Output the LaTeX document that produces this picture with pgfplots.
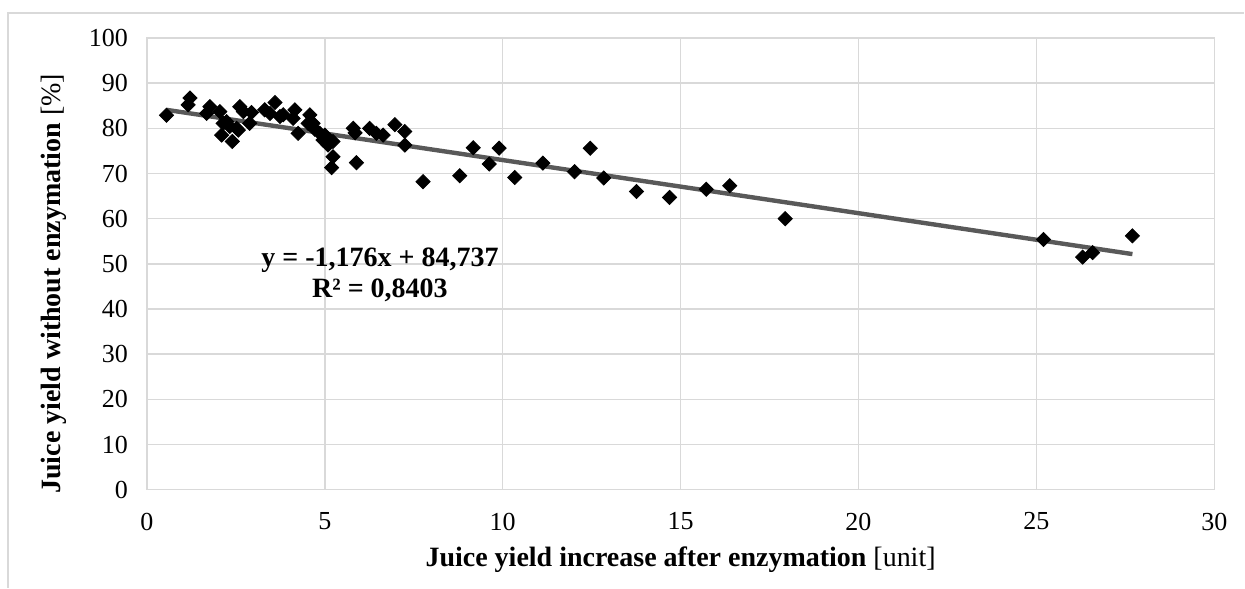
\documentclass[border=0pt]{standalone}
\usepackage{fontspec}
\setmainfont{Liberation Serif}
\usepackage{pgfplots}
\pgfplotsset{compat=1.18}
\definecolor{gridc}{HTML}{D9D9D9}
\definecolor{trend}{HTML}{595959}
\begin{document}
\begin{tikzpicture}
\begin{axis}[
  scale only axis, width=534pt, height=226pt,
  xmin=0, xmax=30, ymin=0, ymax=100,
  xtick={0,5,...,30}, ytick={0,10,...,100},
  grid=major, major grid style={draw=gridc, line width=0.75pt},
  axis line style={draw=gridc, line width=0.75pt},
  major tick length=0pt,
  /pgf/number format/assume math mode=true,
  ticklabel style={font=\fontsize{13}{15}\selectfont},
  xticklabel style={yshift=-8pt},
  yticklabel style={xshift=-6pt},
  xlabel={\textbf{Juice yield increase after enzymation} [unit]},
  ylabel={\textbf{Juice yield without enzymation} [\%]},
  label style={font=\fontsize{14}{16}\selectfont},
  xlabel style={at={(axis description cs:0.5,-0.155)}, anchor=center},
  ylabel style={at={(axis description cs:-0.087,0.456)}, anchor=center},
  clip=false,
]
\addplot[only marks, mark=square*, mark size=2.5pt, mark options={rotate=45, fill=black, draw=black}] coordinates {
(0.55,82.9) (1.16,85.2) (1.21,86.7) (1.68,83.3) (1.77,84.8) (2.05,83.7)
(2.14,81.1) (2.24,81.5) (2.10,78.5) (2.40,77.1) (2.33,80.4) (2.52,80.0)
(2.61,84.8) (2.57,79.6) (2.71,83.7) (2.89,81.1) (2.94,83.5) (3.31,84.1)
(3.46,83.3) (3.60,85.7) (3.74,82.6) (3.83,83.0) (4.16,84.1) (4.11,82.2)
(4.25,78.9) (4.58,83.0) (4.53,81.1) (4.67,81.1) (4.72,79.8) (4.86,78.9)
(4.95,77.4) (5.00,78.5) (5.09,76.3) (5.23,77.1) (5.23,73.7) (5.19,71.3)
(5.80,80.0) (5.85,79.0) (5.89,72.4) (6.26,80.0) (6.45,78.9) (6.64,78.5)
(6.97,80.8) (7.25,79.3) (7.25,76.3) (7.76,68.2) (8.79,69.5) (9.17,75.7)
(9.62,72.1) (9.90,75.6) (10.34,69.1) (11.13,72.3) (12.02,70.4) (12.46,75.6)
(12.84,69.0) (13.76,66.0) (14.69,64.7) (15.72,66.5) (16.38,67.3) (17.94,60.0)
(25.20,55.4) (26.30,51.5) (26.58,52.5) (27.70,56.2)
};
\addplot[trend, line width=2.2pt, no marks] coordinates {(0.55,84.09) (27.7,52.16)};
\node[align=center, font=\fontsize{14}{15.5}\selectfont\bfseries] at (axis cs:6.55,47.5) {y = -1,176x + 84,737\\R² = 0,8403};
\end{axis}
\begin{scope}[shift={(current axis.south west)}]
\draw[gridc, line width=0.75pt] (-69.5pt,-49pt) -- (-69.5pt,238.5pt) -- (549pt,238.5pt);
\path[use as bounding box] (-73.5pt,-49pt) rectangle (549pt,245pt);
\end{scope}
\end{tikzpicture}
\end{document}
